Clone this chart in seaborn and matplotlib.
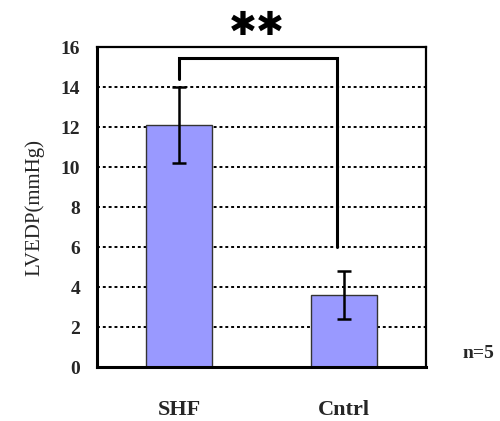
import matplotlib
matplotlib.use("Agg")
import matplotlib.pyplot as plt
import seaborn as sns
import pandas as pd

# Data
groups = ["SHF", "Cntrl"]
means = [12.1, 3.6]
errors = [1.9, 1.2]
y_ticks = [0, 2, 4, 6, 8, 10, 12, 14, 16]

sns.set_style("white")
plt.rcParams["font.family"] = ["Liberation Serif", "DejaVu Serif"]

df = pd.DataFrame({"group": groups, "value": means})

fig = plt.figure(figsize=(5.0, 4.21), dpi=100)
ax = fig.add_axes([0.194, 0.128, 0.658, 0.760])

sns.barplot(
    data=df,
    x="group",
    y="value",
    color="#9999ff",
    edgecolor="#333333",
    linewidth=1.0,
    width=0.4,
    saturation=1,
    errorbar=None,
    ax=ax,
    zorder=3,
)

ax.errorbar(
    range(len(groups)),
    means,
    yerr=errors,
    fmt="none",
    ecolor="black",
    elinewidth=1.8,
    capsize=5,
    capthick=1.8,
    zorder=4,
)

# significance bracket
ax.plot([0, 0, 0.96, 0.96], [14.4, 15.45, 15.45, 6.0],
        color="black", lw=2.2, zorder=5, solid_joinstyle="miter")
fig.text(0.514, 0.94, "✱✱", ha="center", va="center",
         fontsize=24, family="DejaVu Sans", fontweight="bold", color="black")

ax.set_xlim(-0.5, 1.5)
ax.set_ylim(0, 16)
ax.set_yticks(y_ticks)
ax.set_yticklabels([str(t) for t in y_ticks], fontsize=14, fontweight="bold")
ax.yaxis.grid(True, linestyle=(0, (1.5, 1.5)), color="black", lw=1.4, zorder=1)
ax.xaxis.grid(False)
ax.tick_params(axis="y", length=0, pad=12)
ax.tick_params(axis="x", length=0, pad=24)
ax.set_xticks([0, 1])
ax.set_xticklabels(groups, fontsize=16, fontweight="bold")
ax.set_xticks([0.5], minor=True)
ax.tick_params(axis="x", which="minor", direction="in", length=5, width=1)

ax.set_xlabel("")
ax.set_ylabel("LVEDP(mmHg)", fontsize=15, labelpad=12)

for side in ["left", "bottom"]:
    ax.spines[side].set_linewidth(2.2)
for side in ["top", "right"]:
    ax.spines[side].set_linewidth(1.6)
for s in ax.spines.values():
    s.set_color("black")
    s.set_zorder(6)

fig.text(0.956, 0.16, "n=5", fontsize=14, fontweight="bold", ha="center",
         va="center")

fig.savefig("out.png", dpi=100)
